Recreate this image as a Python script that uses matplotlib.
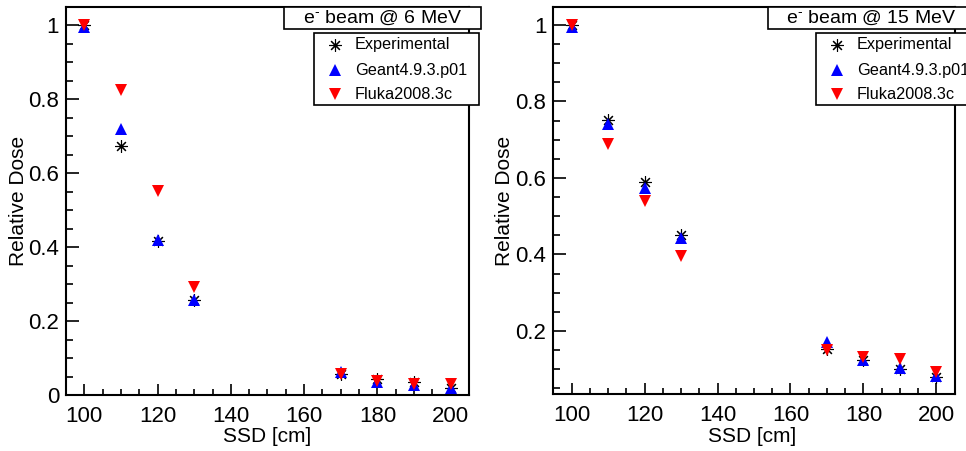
import matplotlib
matplotlib.use("Agg")
import matplotlib.pyplot as plt
from matplotlib.ticker import MultipleLocator, FuncFormatter
from matplotlib.patches import Rectangle
from matplotlib.lines import Line2D

plt.rcParams['font.family'] = ['Liberation Sans', 'DejaVu Sans']
plt.rcParams['mathtext.fontset'] = 'custom'
plt.rcParams['mathtext.rm'] = 'Liberation Sans'
plt.rcParams['mathtext.it'] = 'Liberation Sans'
plt.rcParams['mathtext.bf'] = 'Liberation Sans'

ssd = [100, 110, 120, 130, 170, 180, 190, 200]

exp_6 = [1.0, 0.675, 0.418, 0.256, 0.058, 0.043, 0.035, 0.020]
g4_6 = [0.995, 0.719, 0.420, 0.257, 0.062, 0.035, 0.028, 0.018]
fl_6 = [1.0, 0.826, 0.552, 0.293, 0.056, 0.037, 0.031, 0.030]

exp_15 = [1.0, 0.752, 0.589, 0.451, 0.153, 0.124, 0.101, 0.081]
g4_15 = [0.995, 0.740, 0.573, 0.442, 0.172, 0.125, 0.102, 0.083]
fl_15 = [1.0, 0.690, 0.540, 0.396, 0.150, 0.131, 0.127, 0.094]

series_names = ["Experimental", "Geant4.9.3.p01", "Fluka2008.3c"]
titles = [r"e$^{\text{-}}$ beam @ 6 MeV", r"e$^{\text{-}}$ beam @ 15 MeV"]

W, H = 966, 451
fig = plt.figure(figsize=(W / 100, H / 100), dpi=100)

def px(x0, y0, x1, y1):
    return [x0 / W, 1 - y1 / H, (x1 - x0) / W, (y1 - y0) / H]

panels = [
    dict(rect=px(66, 7, 469, 395), ylim=(0, 1.05), data=(exp_6, g4_6, fl_6),
         title=titles[0], tbox=(284, 7, 481, 29), lbox=(314, 33, 479, 105),
         ylab_x=18.5, xlab_x=267),
    dict(rect=px(553.3, 7, 954.7, 394), ylim=(0.0353, 1.047), data=(exp_15, g4_15, fl_15),
         title=titles[1], tbox=(768, 7, 975, 29), lbox=(816, 33, 981, 105),
         ylab_x=505, xlab_x=752.5),
]

fmt = FuncFormatter(lambda v, p: "%g" % round(v, 3))

STAR = (8, 2, 0)
MS_TRI = 8.8
MS_STAR = 9.0
MEW_STAR = 0.8

for pn in panels:
    ax = fig.add_axes(pn["rect"])
    e, g, f = pn["data"]
    ax.plot(ssd, e, linestyle='none', marker=STAR, markersize=MS_STAR,
            markeredgecolor='black', markeredgewidth=MEW_STAR, zorder=3)
    ax.plot(ssd, g, linestyle='none', marker='^', markersize=MS_TRI,
            color='#0000ff', markeredgewidth=0, zorder=4)
    ax.plot(ssd, f, linestyle='none', marker='v', markersize=MS_TRI,
            color='#ff0000', markeredgewidth=0, zorder=5)
    ax.set_xlim(95, 205)
    ax.set_ylim(*pn["ylim"])
    ax.xaxis.set_major_locator(MultipleLocator(20))
    ax.xaxis.set_minor_locator(MultipleLocator(5))
    ax.yaxis.set_major_locator(MultipleLocator(0.2))
    ax.yaxis.set_minor_locator(MultipleLocator(0.05))
    ax.yaxis.set_major_formatter(fmt)
    ax.tick_params(which='both', direction='in', top=False, right=False,
                   width=1.2, labelsize=16)
    ax.tick_params(axis='x', which='major', length=8, pad=8)
    ax.tick_params(axis='x', which='minor', length=4.3)
    ax.tick_params(axis='y', which='major', length=9, pad=5)
    ax.tick_params(axis='y', which='minor', length=5)
    for sp in ax.spines.values():
        sp.set_linewidth(1.5)

    cy = (pn["rect"][1] + pn["rect"][3] / 2)
    fig.text(pn["ylab_x"] / W, cy, "Relative Dose", rotation=90, ha='center',
             va='center', fontsize=15)
    fig.text(pn["xlab_x"] / W, 1 - 436 / H, "SSD [cm]", ha='center', va='center',
             fontsize=15)

    # title box
    x0, y0, x1, y1 = pn["tbox"]
    fig.patches.append(Rectangle((x0 / W, 1 - y1 / H), (x1 - x0) / W, (y1 - y0) / H,
                                 transform=fig.transFigure, facecolor='white',
                                 edgecolor='black', linewidth=1.2, zorder=10))
    fig.text((x0 + x1) / 2 / W, 1 - (y0 + y1) / 2 / H, pn["title"], ha='center',
             va='center', fontsize=14, zorder=11)

    # legend box
    x0, y0, x1, y1 = pn["lbox"]
    fig.patches.append(Rectangle((x0 / W, 1 - y1 / H), (x1 - x0) / W, (y1 - y0) / H,
                                 transform=fig.transFigure, facecolor='white',
                                 edgecolor='black', linewidth=1.2, zorder=10))
    rows = [45, 70, 94]
    markers = [(STAR, 'black', MS_STAR), ('^', '#0000ff', MS_TRI), ('v', '#ff0000', MS_TRI)]
    for name, yy, (mk, col, msz) in zip(series_names, rows, markers):
        fig.add_artist(Line2D([(x0 + 21) / W], [1 - yy / H], transform=fig.transFigure,
                              linestyle='none', marker=mk, markersize=msz,
                              color=col, markeredgecolor=col,
                              markeredgewidth=MEW_STAR if mk == STAR else 0,
                              zorder=11))
        fig.text((x0 + 41) / W, 1 - yy / H, name, ha='left', va='center',
                 fontsize=11.7, zorder=11)

fig.savefig("out.png", dpi=100)
